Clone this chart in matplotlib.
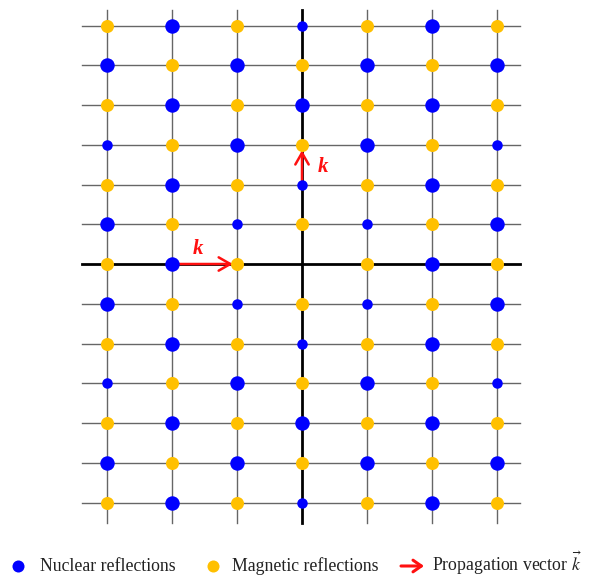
import matplotlib
matplotlib.use("Agg")
import matplotlib.pyplot as plt

# reciprocal lattice indices
h_vals = [-3, -2, -1, 0, 1, 2, 3]
k_vals = [6, 5, 4, 3, 2, 1, 0, -1, -2, -3, -4, -5, -6]

# Y = magnetic, B = strong nuclear, b = weak nuclear, . = none (origin)
pattern = [
    "YBYbYBY",
    "BYBYBYB",
    "YBYBYBY",
    "bYBYBYb",
    "YBYbYBY",
    "BYbYbYB",
    "YBY.YBY",
    "BYbYbYB",
    "YBYbYBY",
    "bYBYBYb",
    "YBYBYBY",
    "BYBYBYB",
    "YBYbYBY",
]

legend_labels = ["Nuclear reflections", "Magnetic reflections",
                 r"Propagation vector $\vec{k}$"]

BLUE = "#0000FF"
GOLD = "#FFC000"
RED = "#FF1010"

plt.rcParams["mathtext.fontset"] = "stix"

W, H = 595, 577
fig = plt.figure(figsize=(W / 100, H / 100), dpi=100, facecolor="white")
ax = fig.add_axes([0, 0, 1, 1])

# map pixel layout to data units (origin at pixel 302, 264)
x0, dx = 302, 65
y0, dy = 264, 39.75
ax.set_xlim((0 - x0) / dx, (W - x0) / dx)
ax.set_ylim((y0 - H) / dy, y0 / dy)
ax.axis("off")

# grid lines
hx0, hx1 = (82 - x0) / dx, (520 - x0) / dx
vy1, vy0 = (y0 - 10) / dy, (y0 - 523) / dy
for k in k_vals:
    if k == 0:
        ax.plot([hx0, hx1], [k, k], color="black", lw=2.0, zorder=2)
    else:
        ax.plot([hx0, hx1], [k, k], color="#666666", lw=1.0, zorder=1)
for h in h_vals:
    if h == 0:
        ax.plot([h, h], [vy0, vy1], color="black", lw=2.0, zorder=2)
    else:
        ax.plot([h, h], [vy0, vy1], color="#666666", lw=1.0, zorder=1)

# reflections
for k, row in zip(k_vals, pattern):
    for h, c in zip(h_vals, row):
        if c == "Y":
            ax.scatter(h, k, s=88, color=GOLD, lw=0, zorder=4)
        elif c == "B":
            ax.scatter(h, k, s=108, color=BLUE, lw=0, zorder=4)
        elif c == "b":
            ax.scatter(h, k, s=57, color=BLUE, lw=0, zorder=4)

# propagation vectors
aprops = dict(arrowstyle="->,head_length=0.7,head_width=0.4", color=RED,
              lw=1.8, mutation_scale=12)
ax.annotate("", xy=(-1, 0), xytext=(-2, 0),
            arrowprops=dict(aprops, shrinkA=5, shrinkB=3), zorder=3)
ax.annotate("", xy=(0, 3), xytext=(0, 2),
            arrowprops=dict(aprops, shrinkA=3, shrinkB=4), zorder=3)
kfont = dict(family="Liberation Serif", weight="bold", style="italic",
             size=15, color=RED, ha="center", va="center")
ax.text(-1.6, 0.38, "k", **kfont)
ax.text(0.33, 2.44, "k", **kfont)

# legend row
ly = 1 - 566 / H
lb = 1 - 571 / H
tfont = dict(family="Liberation Serif", size=12.8, va="baseline", color="#222222")
ax.scatter([18 / W], [ly], s=75, color=BLUE, lw=0, transform=fig.transFigure)
fig.text(40 / W, lb, legend_labels[0], **tfont)
ax.scatter([213 / W], [ly], s=75, color=GOLD, lw=0, transform=fig.transFigure)
fig.text(232 / W, lb, legend_labels[1], **tfont)
ax.annotate("", xy=(424 / W, ly), xytext=(401 / W, ly),
            xycoords="figure fraction", textcoords="figure fraction",
            arrowprops=dict(arrowstyle="->,head_length=0.5,head_width=0.35",
                            color=RED, lw=2.2, mutation_scale=12,
                            shrinkA=0, shrinkB=0))
fig.text(432 / W, lb, legend_labels[2], **tfont)

fig.savefig("out.png", dpi=100, facecolor="white")
